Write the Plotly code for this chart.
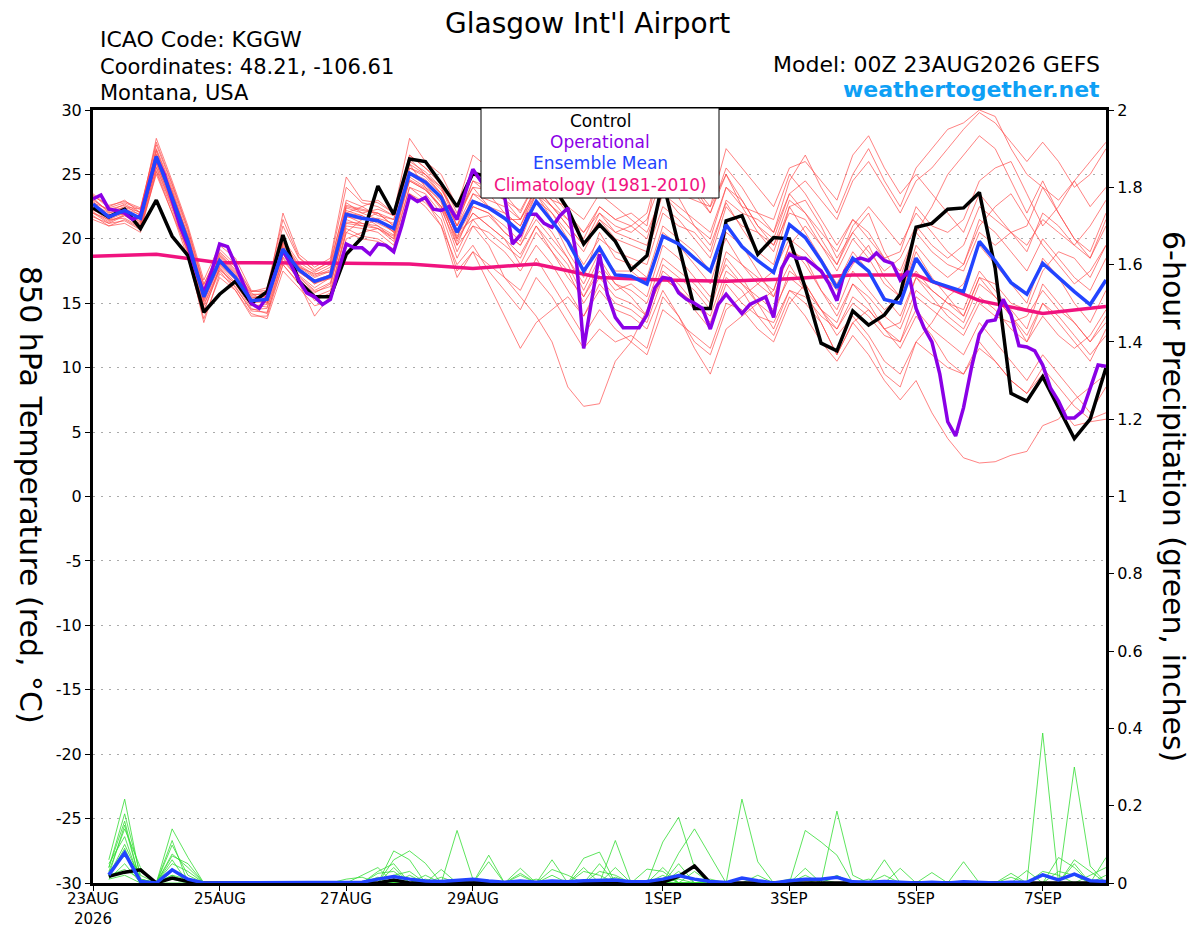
import plotly.graph_objects as go

# time axis (hours after 00Z 23AUG2026)
hours = list(range(0, 385, 6))
hours_op = list(range(0, 385, 3))
hours_precip = list(range(6, 385, 6))
hours_clim = list(range(0, 385, 24))

tick_hours = [0, 48, 96, 144, 216, 264, 312, 360]
tick_labels = ["23AUG<br>2026", "25AUG", "27AUG", "29AUG", "1SEP", "3SEP", "5SEP", "7SEP"]
temp_ticks = [-30, -25, -20, -15, -10, -5, 0, 5, 10, 15, 20, 25, 30]
temp_tick_labels = ["-30", "-25", "-20", "-15", "-10", "-5", "0", "5", "10", "15", "20", "25", "30"]

# 850 hPa temperature (C)
control_t = [22.4, 21.7, 22.3, 20.8, 23.0, 20.2, 18.7, 14.3, 15.7, 16.7, 15.0, 15.9, 20.3, 16.7, 15.5, 15.5,
             18.8, 20.1, 24.1, 21.9, 26.2, 26.0, 24.3, 22.5, 25.1, 24.8, 24.5, 24.0, 24.5, 24.2, 22.3, 19.6,
             21.1, 19.8, 17.6, 18.7, 24.5, 19.5, 14.6, 14.6, 21.4, 21.8, 18.8, 20.1, 20.0, 16.2, 11.9, 11.3,
             14.4, 13.3, 14.1, 15.7, 20.9, 21.2, 22.3, 22.4, 23.6, 17.7, 8.0, 7.4, 9.3, 6.9, 4.5, 6.0, 10.0]

mean_t = [22.7, 21.7, 22.2, 21.6, 26.4, 23.2, 19.8, 15.5, 18.3, 17.0, 15.2, 15.3, 19.2, 17.6, 16.7, 17.1,
          21.9, 21.6, 21.4, 20.8, 25.1, 24.4, 23.2, 20.5, 22.9, 22.4, 21.6, 20.5, 22.9, 21.4, 19.8, 17.5,
          19.3, 17.2, 17.1, 16.5, 20.2, 19.6, 18.5, 17.5, 21.1, 19.4, 18.3, 17.4, 21.1, 20.1, 18.3, 16.2,
          18.5, 17.5, 15.3, 15.0, 18.5, 16.7, 16.3, 15.9, 19.8, 18.3, 16.6, 15.7, 18.1, 17.0, 15.9, 14.9, 16.8]

# operational run, 3-hourly
oper_t = [23.1, 23.4, 22.3, 22.2, 22.0, 21.5, 21.8, 24.0, 26.3, 25.0, 23.0, 21.0, 19.5, 17.5, 15.8, 17.5,
          19.6, 19.4, 18.0, 16.5, 15.0, 14.6, 15.5, 17.3, 19.1, 18.0, 16.8, 15.8, 15.5, 14.9, 15.3, 17.5,
          19.6, 19.3, 19.3, 18.8, 19.6, 19.5, 19.0, 21.0, 23.3, 22.9, 23.2, 22.3, 22.2, 22.5, 21.5, 23.5,
          25.4, 24.5, 23.8, 23.5, 23.3, 19.6, 20.3, 21.9, 21.9, 21.2, 20.9, 21.8, 22.4, 19.0, 11.5, 15.2,
          18.8, 15.7, 13.9, 13.1, 13.1, 13.1, 14.1, 16.2, 17.0, 16.9, 15.8, 15.3, 15.0, 14.6, 13.0, 14.9,
          15.7, 15.0, 14.2, 14.9, 15.2, 15.5, 13.9, 17.7, 18.8, 18.5, 18.5, 18.0, 17.5, 16.5, 15.2, 17.5,
          18.3, 18.5, 18.3, 18.9, 18.3, 18.1, 16.8, 17.5, 14.6, 13.1, 12.0, 9.5, 5.8, 4.7, 6.9, 10.0,
          12.6, 13.6, 13.7, 15.3, 14.1, 11.7, 11.6, 11.3, 10.2, 8.4, 7.4, 6.1, 6.1, 6.6, 8.4, 10.2, 10.1]

# climatology (1981-2010), daily
clim_t = [18.65, 18.8, 18.15, 18.15, 18.1, 18.05, 17.7, 18.05, 17.0, 16.8, 16.7, 16.9, 17.2, 17.2, 15.2, 14.2, 14.75]

m1 = [23.2, 22.0, 22.5, 22.3, 27.0, 24.0, 20.5, 16.2, 18.8, 17.5, 15.8, 15.0, 19.8, 18.0, 17.2, 17.8,
      22.5, 22.2, 22.0, 21.5, 26.0, 25.2, 24.0, 21.5, 24.0, 23.8, 23.0, 22.2, 24.5, 23.5, 22.0, 20.5,
      22.0, 21.0, 20.5, 21.5, 24.8, 23.2, 21.0, 19.5, 22.8, 20.8, 19.0, 18.0, 22.5, 23.0, 21.0, 18.5,
      20.5, 22.0, 19.0, 17.0, 20.5, 22.5, 25.0, 26.5, 28.0, 27.0, 24.5, 22.0, 24.5, 22.0, 20.0, 18.5, 21.0]
m2 = [22.0, 21.2, 21.8, 21.0, 25.5, 22.5, 19.0, 14.8, 17.6, 16.5, 14.6, 14.2, 18.5, 16.8, 15.8, 16.5,
      21.0, 20.8, 20.5, 19.5, 24.0, 23.5, 22.0, 18.5, 21.0, 19.5, 17.0, 15.5, 14.0, 12.0, 8.5, 7.0,
      7.2, 10.5, 12.0, 14.5, 17.0, 16.0, 14.5, 13.0, 16.5, 15.0, 14.0, 13.5, 16.0, 15.5, 14.0, 13.0,
      15.0, 14.0, 12.5, 12.0, 14.5, 13.0, 12.0, 11.0, 13.5, 12.0, 10.5, 9.0, 11.0, 9.5, 8.0, 6.5, 8.5]
m3 = [22.5, 21.5, 22.0, 21.3, 26.0, 23.0, 19.5, 15.2, 18.0, 16.8, 15.0, 15.2, 19.0, 17.2, 16.2, 17.0,
      21.5, 21.0, 21.5, 20.5, 25.5, 24.8, 23.5, 20.0, 22.0, 21.0, 20.0, 18.0, 20.5, 19.0, 17.5, 15.0,
      17.0, 15.5, 15.0, 14.0, 17.5, 16.5, 15.0, 13.5, 17.0, 16.0, 14.0, 12.5, 15.5, 14.0, 12.0, 10.5,
      12.5, 11.0, 9.0, 7.5, 9.0, 6.5, 4.5, 3.0, 2.6, 2.7, 3.2, 3.5, 5.5, 6.0, 7.5, 8.5, 9.5]
m4 = [23.5, 22.5, 23.0, 22.0, 27.8, 24.5, 21.0, 16.8, 19.5, 18.5, 16.0, 15.8, 22.0, 18.8, 17.8, 18.5,
      24.8, 23.0, 22.8, 22.0, 27.8, 26.0, 25.0, 22.5, 26.5, 25.5, 25.0, 23.5, 25.5, 24.5, 25.0, 23.5,
      26.0, 24.0, 25.0, 24.5, 29.0, 26.0, 23.5, 22.0, 25.5, 24.0, 22.0, 20.5, 24.5, 26.5, 24.0, 22.0,
      25.0, 27.0, 24.5, 22.5, 25.5, 27.0, 28.5, 29.0, 30.0, 29.5, 27.0, 25.0, 24.0, 23.0, 24.5, 22.5, 24.0]
m5 = [21.8, 21.0, 21.5, 20.8, 25.0, 22.0, 19.0, 14.5, 17.5, 16.0, 14.0, 14.0, 18.0, 16.5, 15.5, 16.0,
      20.5, 21.5, 22.0, 21.0, 24.5, 23.8, 22.5, 20.5, 21.5, 21.8, 20.5, 19.5, 21.5, 20.0, 18.5, 16.0,
      18.5, 16.5, 15.5, 14.0, 18.0, 17.0, 16.0, 14.5, 18.5, 17.0, 15.0, 13.0, 16.0, 15.0, 13.5, 11.0,
      13.5, 12.0, 9.5, 8.5, 12.0, 13.5, 15.5, 14.0, 17.0, 15.5, 14.0, 12.0, 15.0, 13.5, 12.0, 10.5, 13.0]
m6 = [22.8, 22.3, 22.6, 21.8, 26.8, 23.6, 20.0, 15.8, 18.5, 17.2, 15.5, 15.5, 19.5, 17.8, 17.0, 17.5,
      22.0, 21.8, 21.0, 20.0, 25.0, 24.5, 23.0, 19.5, 22.5, 22.0, 21.0, 19.8, 23.0, 22.0, 20.5, 19.0,
      21.5, 20.0, 19.5, 19.0, 22.5, 21.5, 20.0, 18.5, 22.5, 21.0, 20.5, 19.5, 23.0, 22.0, 20.5, 19.0,
      21.5, 20.0, 18.5, 19.0, 22.5, 21.0, 20.5, 21.5, 24.5, 25.5, 26.0, 23.5, 21.0, 22.5, 24.5, 26.0, 27.5]
m7 = [22.0, 21.5, 21.6, 20.9, 25.6, 22.6, 19.2, 14.3, 17.8, 16.2, 14.5, 14.6, 18.3, 16.9, 15.2, 15.8,
      20.8, 20.2, 20.0, 19.2, 23.5, 22.8, 21.5, 17.5, 19.0, 18.0, 17.0, 16.0, 18.5, 16.5, 14.5, 12.5,
      14.5, 13.0, 12.0, 11.0, 14.5, 13.5, 12.5, 11.5, 15.0, 14.5, 13.0, 12.0, 15.0, 16.5, 14.5, 13.0,
      15.5, 14.5, 13.0, 11.5, 14.0, 12.5, 10.5, 9.5, 11.5, 10.5, 9.0, 8.0, 10.0, 8.5, 7.0, 6.0, 6.5]
m8 = [23.0, 22.2, 22.4, 22.1, 26.2, 23.4, 20.3, 15.9, 18.9, 17.6, 15.6, 15.8, 20.0, 18.2, 17.4, 18.0,
      23.0, 22.5, 21.8, 21.5, 25.8, 24.0, 22.5, 20.0, 23.5, 22.5, 21.5, 20.5, 23.5, 21.5, 19.0, 17.0,
      20.5, 18.5, 18.0, 17.0, 21.0, 20.0, 19.0, 17.5, 20.0, 18.0, 16.5, 15.5, 19.0, 18.5, 16.0, 14.5,
      17.5, 16.0, 14.5, 15.5, 19.0, 17.0, 15.5, 16.5, 19.5, 18.0, 16.5, 15.0, 18.5, 17.0, 15.0, 13.5, 16.0]
m9 = [22.4, 21.8, 22.2, 21.5, 26.5, 23.5, 19.8, 15.4, 18.2, 17.0, 15.2, 15.0, 19.0, 17.5, 16.5, 17.0,
      22.0, 22.5, 23.0, 22.0, 26.5, 25.5, 24.5, 22.0, 25.0, 24.0, 23.5, 22.0, 24.5, 23.0, 21.5, 20.0,
      22.5, 21.5, 22.0, 21.0, 27.5, 26.0, 24.0, 22.0, 25.0, 22.5, 20.5, 19.0, 22.5, 20.5, 18.5, 16.5,
      19.0, 17.5, 15.5, 14.0, 17.0, 15.5, 14.0, 13.0, 15.5, 14.5, 13.0, 12.0, 14.0, 12.5, 11.5, 12.5, 14.5]
m10 = [21.5, 21.0, 21.2, 20.5, 25.2, 22.0, 18.5, 13.8, 17.0, 16.0, 14.2, 13.8, 17.5, 16.2, 14.8, 15.2,
       20.0, 20.5, 20.8, 19.8, 24.0, 23.0, 21.0, 18.0, 19.5, 17.5, 16.0, 14.5, 17.0, 15.5, 13.5, 11.5,
       13.0, 12.0, 12.5, 11.5, 15.5, 14.0, 12.0, 11.0, 14.5, 15.5, 16.5, 17.5, 20.0, 19.0, 17.5, 16.0,
       18.0, 19.5, 17.0, 15.5, 17.5, 16.0, 15.0, 14.0, 17.0, 16.5, 15.0, 14.5, 17.5, 19.0, 18.5, 17.0, 19.5]
m11 = [23.3, 22.6, 22.9, 22.4, 27.3, 24.2, 20.7, 16.4, 19.2, 18.0, 15.9, 16.0, 21.0, 18.5, 17.6, 18.2,
       22.8, 22.0, 21.5, 20.5, 25.5, 25.0, 24.0, 21.0, 24.5, 23.5, 22.0, 21.0, 24.0, 23.0, 22.5, 21.5,
       23.5, 22.5, 21.5, 20.5, 23.5, 22.5, 21.5, 20.5, 24.0, 23.0, 21.0, 20.0, 23.5, 24.5, 23.0, 21.5,
       24.5, 26.0, 24.0, 22.0, 24.5, 25.5, 27.0, 28.5, 29.8, 29.0, 27.5, 26.0, 27.5, 26.0, 24.0, 25.0, 27.0]
m12 = [22.6, 21.6, 22.1, 21.7, 26.3, 23.1, 19.6, 15.3, 18.4, 17.1, 15.1, 15.4, 19.3, 17.7, 16.8, 17.2,
       21.8, 21.2, 20.8, 20.2, 24.8, 24.0, 23.0, 20.2, 22.5, 22.0, 20.5, 19.5, 22.0, 20.5, 18.5, 16.5,
       19.0, 17.5, 17.5, 16.5, 20.5, 19.5, 18.0, 16.5, 20.5, 19.5, 17.5, 15.5, 18.0, 16.0, 13.5, 11.0,
       13.5, 14.5, 13.0, 13.5, 17.0, 16.0, 15.0, 14.5, 17.5, 16.0, 14.5, 13.0, 16.5, 15.0, 13.5, 12.0, 14.0]
m13 = [22.2, 21.9, 21.9, 21.4, 26.1, 23.3, 19.9, 15.6, 18.1, 16.9, 15.3, 15.1, 19.1, 17.4, 16.6, 16.9,
       21.7, 21.5, 21.6, 21.2, 25.2, 24.6, 23.5, 21.0, 23.0, 22.5, 22.0, 21.0, 23.5, 22.5, 21.0, 19.5,
       21.5, 20.5, 21.0, 22.0, 26.5, 25.5, 24.0, 22.5, 25.0, 23.0, 21.0, 19.5, 22.0, 21.5, 19.5, 17.5,
       20.0, 18.5, 16.5, 15.5, 19.5, 18.0, 17.0, 18.0, 21.5, 20.5, 19.0, 17.5, 20.0, 18.5, 17.0, 16.0, 18.5]
m14 = [22.9, 21.8, 22.3, 21.5, 26.6, 23.0, 19.7, 15.7, 18.6, 17.3, 15.4, 15.5, 19.4, 17.5, 16.5, 17.3,
       22.2, 21.8, 21.2, 20.6, 25.0, 24.2, 22.8, 19.8, 22.0, 21.0, 20.0, 18.8, 21.0, 19.5, 18.0, 15.5,
       17.5, 16.0, 16.5, 15.5, 19.5, 18.5, 17.0, 15.5, 18.0, 16.5, 15.0, 14.0, 17.5, 16.5, 14.5, 12.5,
       14.0, 12.5, 10.5, 9.5, 12.0, 11.0, 10.0, 9.5, 12.0, 10.5, 9.0, 8.0, 9.5, 7.0, 5.5, 5.8, 6.0]
m15 = [23.1, 22.1, 22.7, 22.0, 26.9, 23.8, 20.2, 16.0, 18.7, 17.4, 15.7, 15.7, 19.7, 17.9, 17.1, 17.6,
       22.4, 22.0, 22.3, 21.8, 26.2, 25.0, 23.8, 21.8, 24.0, 22.5, 21.5, 21.5, 23.5, 22.0, 20.0, 18.0,
       20.0, 19.0, 18.5, 18.0, 22.0, 21.0, 20.5, 19.0, 23.0, 22.0, 21.5, 20.5, 23.5, 22.0, 20.0, 18.0,
       20.5, 19.0, 17.5, 18.5, 21.0, 19.5, 18.5, 19.5, 22.5, 21.5, 20.5, 19.0, 22.0, 21.0, 19.5, 18.5, 21.5]
m16 = [22.3, 21.4, 21.8, 21.2, 25.8, 22.8, 19.3, 15.1, 17.9, 16.6, 14.8, 14.9, 18.8, 17.1, 16.0, 16.6,
       21.2, 21.0, 20.8, 20.0, 24.5, 23.8, 22.5, 19.0, 21.5, 20.0, 19.0, 17.5, 19.5, 18.0, 16.0, 14.0,
       16.0, 14.5, 14.0, 13.0, 16.0, 14.0, 11.5, 9.5, 13.0, 14.0, 15.0, 16.0, 19.5, 21.0, 19.5, 18.0,
       21.0, 22.5, 21.0, 19.5, 22.0, 20.5, 19.0, 18.0, 21.0, 22.5, 23.5, 21.5, 19.5, 18.0, 16.5, 17.5, 19.5]
m17 = [23.4, 22.4, 22.8, 22.3, 27.5, 24.3, 20.8, 16.5, 19.0, 17.8, 15.9, 16.2, 21.5, 18.6, 17.5, 18.3,
       24.0, 22.8, 22.5, 21.8, 26.5, 25.5, 24.2, 21.5, 24.5, 24.0, 23.0, 21.5, 24.0, 22.5, 21.0, 19.5,
       22.0, 20.5, 20.0, 19.5, 23.5, 22.0, 21.0, 20.0, 24.0, 22.5, 22.0, 21.5, 25.0, 23.5, 21.5, 19.5,
       21.5, 20.5, 18.5, 17.5, 20.5, 19.0, 18.0, 17.5, 20.5, 19.5, 20.5, 21.0, 24.0, 22.0, 20.0, 19.0, 22.0]
m18 = [21.7, 21.2, 21.4, 20.7, 25.3, 22.3, 18.8, 13.5, 17.3, 16.3, 14.4, 14.3, 18.0, 16.6, 14.0, 15.6,
       20.5, 20.0, 19.8, 19.0, 23.5, 22.5, 21.0, 17.0, 19.0, 16.5, 14.0, 11.5, 13.5, 14.5, 15.5, 14.0,
       16.5, 15.0, 14.5, 13.5, 17.0, 16.0, 15.0, 14.0, 17.5, 16.5, 15.5, 14.5, 17.0, 16.0, 14.5, 13.5,
       16.5, 15.0, 13.0, 12.0, 15.5, 14.5, 13.5, 12.5, 15.0, 14.0, 13.5, 14.0, 16.0, 14.5, 13.5, 12.0, 13.5]
m19 = [22.7, 22.0, 22.3, 21.9, 26.4, 23.7, 20.1, 15.9, 18.4, 17.1, 15.4, 15.6, 19.6, 17.8, 17.3, 17.4,
       22.6, 22.3, 22.0, 21.0, 25.8, 25.0, 23.5, 21.0, 23.5, 23.0, 22.5, 21.5, 24.0, 22.5, 21.5, 20.5,
       22.5, 21.5, 21.0, 20.0, 24.0, 23.5, 23.0, 22.5, 27.0, 25.5, 24.0, 22.5, 25.5, 26.0, 24.5, 23.0,
       26.5, 28.0, 25.5, 23.5, 25.0, 23.5, 22.0, 20.5, 23.5, 22.0, 20.5, 19.5, 21.5, 20.5, 19.5, 21.0, 23.0]
m20 = [22.1, 21.3, 21.9, 21.1, 25.9, 22.7, 19.2, 14.9, 17.7, 16.5, 14.9, 14.7, 18.6, 17.0, 15.9, 16.3,
       21.3, 21.2, 21.0, 20.3, 24.6, 23.9, 22.3, 19.5, 21.0, 20.5, 19.5, 18.5, 21.0, 19.0, 17.0, 15.5,
       18.0, 16.5, 16.0, 15.0, 18.5, 17.5, 16.5, 15.0, 19.0, 18.0, 17.0, 16.0, 19.5, 18.0, 16.0, 14.0,
       16.5, 15.5, 14.0, 13.0, 16.0, 15.0, 14.5, 13.5, 16.5, 15.5, 14.0, 12.5, 15.0, 14.0, 12.5, 11.0, 12.5]
members_t = [m1, m2, m3, m4, m5, m6, m7, m8, m9, m10, m11, m12, m13, m14, m15, m16, m17, m18, m19, m20]

# 6-hour precipitation (inches), from 06Z 23AUG
control_p = [0.017, 0.028, 0.034, 0, 0.013, 0.004, 0, 0, 0, 0, 0, 0, 0, 0, 0, 0,
             0, 0, 0.008, 0, 0, 0, 0, 0, 0, 0, 0, 0, 0, 0, 0, 0,
             0, 0, 0, 0.002, 0.017, 0.044, 0, 0, 0, 0, 0, 0, 0, 0, 0, 0,
             0, 0, 0, 0, 0, 0, 0, 0, 0, 0, 0, 0, 0, 0, 0, 0]
mean_p = [0.021, 0.078, 0.004, 0, 0.034, 0.01, 0, 0, 0, 0, 0, 0, 0, 0, 0, 0,
          0.002, 0.01, 0.017, 0.01, 0.005, 0.004, 0.008, 0.01, 0.005, 0.002, 0.005, 0.002, 0.005, 0.003, 0.006, 0.006,
          0.008, 0.003, 0.004, 0.01, 0.019, 0.01, 0.004, 0.001, 0.013, 0.006, 0, 0.006, 0.01, 0.01, 0.015, 0.003,
          0.002, 0.004, 0.003, 0, 0.002, 0, 0.003, 0.001, 0, 0.002, 0.002, 0.021, 0.008, 0.023, 0.006, 0.004]

g1 = [0.06, 0.217, 0.01, 0, 0.02, 0, 0, 0, 0, 0, 0, 0, 0, 0, 0, 0,
      0, 0, 0.083, 0.06, 0, 0, 0, 0, 0.072, 0, 0, 0, 0, 0, 0, 0,
      0, 0, 0, 0.106, 0.17, 0.04, 0, 0, 0, 0, 0, 0, 0, 0, 0.186, 0.02,
      0, 0, 0, 0, 0, 0, 0, 0, 0, 0, 0, 0.388, 0, 0.05, 0, 0]
g2 = [0.04, 0.179, 0.02, 0, 0.14, 0.066, 0, 0, 0, 0, 0, 0, 0, 0, 0, 0,
      0, 0.03, 0.05, 0, 0, 0, 0.136, 0.01, 0, 0, 0, 0, 0, 0, 0.064, 0.08,
      0, 0, 0, 0, 0, 0, 0, 0, 0.217, 0.055, 0, 0, 0, 0, 0, 0,
      0, 0, 0, 0, 0.027, 0, 0.055, 0, 0, 0, 0, 0, 0, 0, 0, 0.066]
g3 = [0.02, 0.15, 0, 0, 0.098, 0.02, 0, 0, 0, 0, 0, 0, 0, 0, 0, 0,
      0, 0, 0.06, 0.083, 0.051, 0, 0, 0, 0, 0, 0, 0, 0.06, 0, 0, 0,
      0.11, 0, 0, 0, 0, 0, 0, 0, 0, 0, 0, 0, 0.136, 0.106, 0.072, 0,
      0, 0.06, 0, 0, 0, 0, 0, 0, 0, 0, 0, 0, 0, 0.30, 0.044, 0]
g4 = [0.03, 0.14, 0.04, 0, 0.075, 0.04, 0, 0, 0, 0, 0, 0, 0, 0, 0, 0,
      0.02, 0.04, 0, 0, 0, 0.035, 0, 0, 0, 0, 0.038, 0, 0, 0, 0.03, 0.02,
      0, 0, 0, 0, 0.077, 0.14, 0.07, 0, 0, 0, 0, 0, 0, 0, 0, 0,
      0, 0, 0, 0, 0, 0, 0, 0, 0, 0, 0.032, 0, 0.066, 0.04, 0, 0]
g5 = [0.05, 0.12, 0, 0, 0.06, 0, 0, 0, 0, 0, 0, 0, 0, 0, 0, 0,
      0, 0.025, 0.03, 0, 0, 0, 0, 0, 0.055, 0, 0, 0, 0, 0, 0, 0,
      0.04, 0, 0.036, 0.03, 0, 0, 0, 0, 0, 0, 0, 0, 0.038, 0, 0, 0,
      0, 0, 0.038, 0, 0, 0, 0, 0, 0, 0.015, 0, 0, 0, 0, 0.02, 0.04]
g6 = [0.02, 0.10, 0.01, 0, 0.05, 0.03, 0, 0, 0, 0, 0, 0, 0, 0, 0, 0,
      0, 0, 0.02, 0.03, 0, 0, 0, 0, 0, 0, 0, 0.01, 0, 0, 0.04, 0,
      0, 0, 0, 0, 0.03, 0, 0, 0, 0, 0.02, 0, 0, 0, 0.01, 0, 0,
      0.01, 0, 0, 0, 0, 0, 0, 0, 0, 0, 0, 0.03, 0.02, 0, 0, 0]
g7 = [0.017, 0.09, 0, 0, 0.035, 0, 0, 0, 0, 0, 0, 0, 0, 0, 0, 0.01,
      0.015, 0, 0.04, 0, 0.02, 0, 0, 0, 0, 0, 0.025, 0, 0.02, 0, 0, 0.05,
      0, 0, 0, 0.02, 0, 0.03, 0, 0, 0, 0, 0, 0, 0, 0, 0.02, 0,
      0, 0, 0, 0, 0, 0, 0, 0, 0, 0, 0, 0, 0, 0.06, 0.03, 0]
g8 = [0.03, 0.07, 0.03, 0, 0.02, 0.01, 0, 0, 0, 0, 0, 0, 0, 0, 0, 0,
      0, 0.015, 0, 0.02, 0, 0, 0, 0.008, 0, 0, 0, 0, 0.035, 0.02, 0, 0,
      0, 0, 0, 0.04, 0, 0, 0.01, 0, 0, 0, 0, 0, 0, 0, 0, 0,
      0, 0.02, 0, 0, 0, 0, 0, 0, 0, 0.025, 0, 0, 0, 0, 0, 0.02]
g9 = [0.01, 0.05, 0, 0, 0.07, 0.05, 0, 0, 0, 0, 0, 0, 0, 0, 0, 0,
      0, 0, 0.01, 0, 0, 0.015, 0, 0, 0, 0, 0.02, 0, 0, 0, 0, 0.03,
      0.02, 0, 0, 0, 0.05, 0, 0, 0, 0, 0, 0, 0, 0.02, 0, 0, 0,
      0, 0, 0, 0, 0, 0, 0, 0, 0, 0, 0, 0, 0.03, 0.02, 0, 0]
g10 = [0.02, 0.035, 0.01, 0, 0, 0, 0, 0, 0, 0, 0, 0, 0, 0, 0, 0,
       0, 0, 0, 0, 0.01, 0, 0, 0, 0, 0, 0, 0, 0, 0, 0, 0,
       0.015, 0, 0, 0, 0, 0, 0, 0, 0, 0, 0, 0.01, 0, 0, 0, 0,
       0, 0, 0, 0, 0, 0, 0, 0, 0, 0, 0, 0, 0, 0, 0, 0]
g11 = [0.04, 0.16, 0, 0, 0.11, 0, 0, 0, 0, 0, 0, 0, 0, 0, 0, 0,
       0, 0, 0, 0.012, 0, 0, 0, 0, 0, 0, 0, 0, 0, 0, 0, 0,
       0, 0, 0, 0, 0.01, 0, 0, 0, 0, 0, 0, 0, 0, 0, 0, 0,
       0, 0, 0, 0, 0, 0, 0, 0, 0, 0, 0, 0, 0, 0, 0, 0]
g12 = [0.01, 0.02, 0, 0, 0.01, 0, 0, 0, 0, 0, 0, 0, 0, 0, 0, 0,
       0, 0, 0, 0, 0, 0, 0, 0, 0, 0, 0, 0, 0, 0, 0, 0,
       0, 0, 0, 0, 0, 0, 0, 0, 0, 0, 0, 0, 0, 0, 0, 0,
       0, 0, 0, 0, 0, 0, 0, 0, 0, 0, 0, 0, 0, 0, 0, 0]
members_p = [g1, g2, g3, g4, g5, g6, g7, g8, g9, g10, g11, g12]

FONT = "DejaVu Sans, Liberation Sans, sans-serif"
RED = "rgba(255,70,70,0.85)"
GREEN = "#33dd33"
PURPLE = "#8a00e6"
BLUE = "#2244ff"
PINK = "#f0137f"

# plot area in reference pixels: left 93, right 1106, top 110, bottom 883
# (the page body adds an 8px offset, so the margins are 8px smaller)
def px(x):
    return (x - 93) / 1013

def py(y):
    return (883 - y) / 773

fig = go.Figure()

for m in members_t:
    fig.add_trace(go.Scatter(x=hours, y=m, mode="lines",
                             line=dict(color=RED, width=0.8), hoverinfo="skip"))

fig.add_trace(go.Scatter(x=hours_clim, y=clim_t, mode="lines", line=dict(color=PINK, width=3.5)))
fig.add_trace(go.Scatter(x=hours, y=control_t, mode="lines", line=dict(color="black", width=3.5)))
fig.add_trace(go.Scatter(x=hours_op, y=oper_t, mode="lines", line=dict(color=PURPLE, width=3.5)))
fig.add_trace(go.Scatter(x=hours, y=mean_t, mode="lines", line=dict(color=BLUE, width=3.5)))

for g in members_p:
    fig.add_trace(go.Scatter(x=hours_precip, y=g, yaxis="y2", mode="lines",
                             line=dict(color=GREEN, width=0.8), hoverinfo="skip"))
fig.add_trace(go.Scatter(x=hours_precip, y=control_p, yaxis="y2", mode="lines",
                         line=dict(color="black", width=3.5)))
fig.add_trace(go.Scatter(x=hours_precip, y=mean_p, yaxis="y2", mode="lines",
                         line=dict(color=BLUE, width=3.5)))

annotations = [
    dict(text="Glasgow Int'l Airport", x=px(587), y=py(23), size=28, color="black", xanchor="center"),
    dict(text="ICAO Code: KGGW", x=px(98), y=py(39), size=22, color="black", xanchor="left"),
    dict(text="Coordinates: 48.21, -106.61", x=px(98), y=py(67), size=21, color="black", xanchor="left"),
    dict(text="Montana, USA", x=px(98), y=py(93), size=21, color="black", xanchor="left"),
    dict(text="Model: 00Z 23AUG2026 GEFS", x=px(1102), y=py(64), size=22, color="black", xanchor="right"),
    dict(text="<b>weathertogether.net</b>", x=px(1102), y=py(89), size=22, color="#0ea0f5", xanchor="right"),
    dict(text="Control", x=px(600), y=py(121), size=17, color="black", xanchor="center"),
    dict(text="Operational", x=px(600), y=py(142), size=17, color=PURPLE, xanchor="center"),
    dict(text="Ensemble Mean", x=px(600), y=py(163), size=17, color=BLUE, xanchor="center"),
    dict(text="Climatology (1981-2010)", x=px(600), y=py(185), size=17, color=PINK, xanchor="center"),
]
ann_list = []
for a in annotations:
    ann_list.append(dict(text=a["text"], x=a["x"], y=a["y"], xref="paper", yref="paper",
                         xanchor=a["xanchor"], yanchor="middle", showarrow=False,
                         font=dict(family=FONT, size=a["size"], color=a["color"])))
# date labels under the x axis, placed on the axis' own scale
for h, lab in zip(tick_hours, tick_labels):
    ann_list.append(dict(text=lab, x=h, xref="x", y=py(889), yref="paper", showarrow=False,
                         xanchor="center", yanchor="top", borderpad=0,
                         font=dict(family=FONT, size=15, color="black")))
ann_list.append(dict(text="850 hPa Temperature (red, °C)", x=px(31), y=py(495), xref="paper", yref="paper",
                     textangle=90, showarrow=False, xanchor="center", yanchor="middle",
                     font=dict(family=FONT, size=30, color="black")))
ann_list.append(dict(text="6-hour Precipitation (green, inches)", x=px(1174), y=py(496), xref="paper", yref="paper",
                     textangle=90, showarrow=False, xanchor="center", yanchor="middle",
                     font=dict(family=FONT, size=30, color="black")))

fig.update_layout(
    width=1200, height=927,
    margin=dict(l=85, r=102, t=102, b=52),
    paper_bgcolor="white", plot_bgcolor="white",
    showlegend=False,
    font=dict(family=FONT, color="black", size=15),
    xaxis=dict(range=[0, 384], tickvals=tick_hours, showticklabels=False,
               ticks="outside", ticklen=5, tickwidth=1, tickcolor="black",
               showline=True, linewidth=3, linecolor="black", mirror=True,
               showgrid=False, zeroline=False, automargin=False),
    yaxis=dict(range=[-30, 30], tickvals=temp_ticks, ticktext=temp_tick_labels,
               ticks="outside", ticklen=5, tickwidth=1,
               tickcolor="black", showline=True, linewidth=3, linecolor="black",
               showgrid=True, gridcolor="#aaaaaa", griddash="2px,6px", gridwidth=1,
               zeroline=False, automargin=False, tickfont=dict(family=FONT, size=16)),
    yaxis2=dict(range=[0, 2], dtick=0.2, tick0=0, overlaying="y", side="right",
                ticks="outside", ticklen=5, tickwidth=1, tickcolor="black",
                showline=True, linewidth=3, linecolor="black",
                showgrid=False, zeroline=False, automargin=False,
                tickfont=dict(family=FONT, size=16)),
    shapes=[dict(type="rect", xref="paper", yref="paper", layer="above",
                 x0=px(481), x1=px(719), y0=py(198), y1=py(108),
                 fillcolor="white", line=dict(color="black", width=1))],
    annotations=ann_list,
)

fig.write_html("out.html")
